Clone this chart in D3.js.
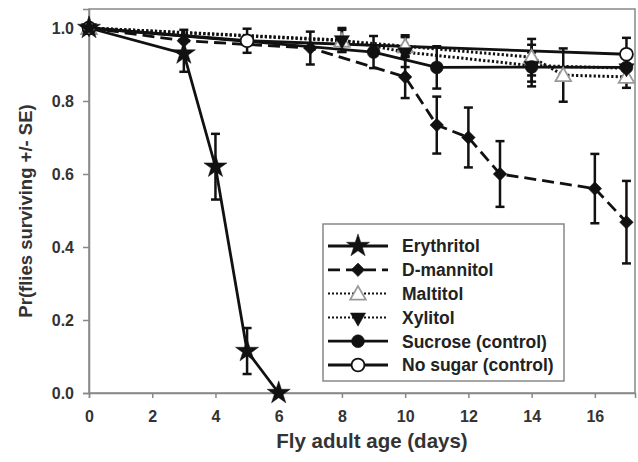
<!DOCTYPE html>
<html>
<head>
<meta charset="utf-8">
<script src="https://cdnjs.cloudflare.com/ajax/libs/d3/7.8.5/d3.min.js"></script>
<style>
  body { margin: 0; background: #fff; }
  text { font-family: "Liberation Sans", Arial, sans-serif; font-weight: bold; }
</style>
</head>
<body>
<div id="chart"></div>
<script>
var width = 638
var height = 462

// values: day, survival, standard error
const erythritolDays = [0, 3, 4, 5, 6];
const erythritolVals = [1.0, 0.93, 0.62, 0.115, 0.0];
const erythritolSE   = [0, 0.05, 0.09, 0.063, 0];

const mannitolDays = [0, 3, 7, 10, 11, 12, 13, 16, 17];
const mannitolVals = [1.0, 0.965, 0.945, 0.866, 0.734, 0.70, 0.60, 0.56, 0.468];
const mannitolSE   = [0, 0.03, 0.045, 0.058, 0.078, 0.082, 0.09, 0.095, 0.113];

const maltitolDays = [0, 8, 10, 14, 15, 17];
const maltitolVals = [1.0, 0.965, 0.95, 0.92, 0.871, 0.866];
const maltitolSE   = [0, 0.03, 0.03, 0.05, 0.073, 0.03];

const xylitolDays = [0, 8, 10, 14, 17];
const xylitolVals = [1.0, 0.967, 0.934, 0.897, 0.89];
const xylitolSE   = [0, 0.033, 0.041, 0.057, 0.03];

const sucroseDays = [0, 9, 11, 14, 17];
const sucroseVals = [1.0, 0.934, 0.892, 0.893, 0.892];
const sucroseSE   = [0, 0.044, 0.058, 0.04, 0.03];

const noSugarDays = [0, 5, 17];
const noSugarVals = [1.0, 0.965, 0.928];
const noSugarSE   = [0, 0.033, 0.045];

const xTicks = [0, 2, 4, 6, 8, 10, 12, 14, 16];
const yTicks = [0, 0.2, 0.4, 0.6, 0.8, 1.0];

const zip = (days, vals, se) => days.map((d, i) => ({day: d, val: vals[i], se: se[i]}));

const dots = "2.2,2.2";
const series = [
  {name: "Erythritol", data: zip(erythritolDays, erythritolVals, erythritolSE), dash: null, sym: d3.symbolStar, size: 165, fill: "#111", rot: 0},
  {name: "D-mannitol", data: zip(mannitolDays, mannitolVals, mannitolSE), dash: "12,6", sym: d3.symbolSquare, size: 92, fill: "#111", rot: 45},
  {name: "Maltitol", data: zip(maltitolDays, maltitolVals, maltitolSE), dash: dots, sym: d3.symbolTriangle, size: 105, fill: "#fff", stroke: "#999", rot: 0},
  {name: "Xylitol", data: zip(xylitolDays, xylitolVals, xylitolSE), dash: dots, sym: d3.symbolTriangle, size: 100, fill: "#111", rot: 180},
  {name: "Sucrose (control)", data: zip(sucroseDays, sucroseVals, sucroseSE), dash: null, sym: d3.symbolCircle, size: 130, fill: "#111", rot: 0},
  {name: "No sugar (control)", data: zip(noSugarDays, noSugarVals, noSugarSE), dash: null, sym: d3.symbolCircle, size: 130, fill: "#fff", stroke: "#111", rot: 0}
];

const margin = {top: 9, right: 3, bottom: 69, left: 89};
const innerWidth = width - margin.left - margin.right;
const innerHeight = height - margin.top - margin.bottom;

var svg = d3.select("#chart").append("svg")
  .attr("width", width)
  .attr("height", height)

const g = svg.append("g")
  .attr("transform", `translate(${margin.left}, ${margin.top})`)

const xScale = d3.scaleLinear().domain([0, 17.27]).range([0, innerWidth]);
const yScale = d3.scaleLinear().domain([0, 1.052]).range([innerHeight, 0]);

// frame
g.append("rect")
  .attr("width", innerWidth).attr("height", innerHeight)
  .attr("fill", "none").attr("stroke", "#888").attr("stroke-width", 1.5);

const xAxis = d3.axisBottom(xScale).tickValues(xTicks).tickFormat(d3.format("d")).tickSize(5).tickPadding(13);
const yAxis = d3.axisLeft(yScale).tickValues(yTicks).tickFormat(d3.format(".1f")).tickSize(6).tickPadding(9);

g.append("g").attr("transform", `translate(0, ${innerHeight})`).call(xAxis)
  .call(a => a.selectAll("line,path").attr("stroke", "#888").attr("stroke-width", 1.5))
  .call(a => a.selectAll("text").attr("font-size", 16).attr("fill", "#333"));
g.append("g").call(yAxis)
  .call(a => a.selectAll("line,path").attr("stroke", "#888").attr("stroke-width", 1.5))
  .call(a => a.selectAll("text").attr("font-size", 16).attr("fill", "#333"));

// lines
const line = d3.line().x(d => xScale(d.day)).y(d => yScale(d.val));
const drawOrder = [1, 2, 3, 4, 5, 0];

drawOrder.forEach(i => {
  const s = series[i];
  g.append("path").datum(s.data)
    .attr("d", line)
    .attr("fill", "none")
    .attr("stroke", "#111")
    .attr("stroke-width", s.dash === dots ? 3 : 2.8)
    .attr("stroke-dasharray", s.dash);
});

// error bars
drawOrder.forEach(i => {
  const s = series[i];
  const eb = g.append("g").selectAll("g").data(s.data.filter(d => d.se > 0)).enter().append("g");
  eb.append("line")
    .attr("x1", d => xScale(d.day)).attr("x2", d => xScale(d.day))
    .attr("y1", d => yScale(d.val + d.se)).attr("y2", d => yScale(d.val - d.se))
    .attr("stroke", "#111").attr("stroke-width", 2.5);
  [1, -1].forEach(sign => {
    eb.append("line")
      .attr("x1", d => xScale(d.day) - 4.5).attr("x2", d => xScale(d.day) + 4.5)
      .attr("y1", d => yScale(d.val + sign * d.se)).attr("y2", d => yScale(d.val + sign * d.se))
      .attr("stroke", "#111").attr("stroke-width", 2.5);
  });
});

// markers
const marker = s => d3.symbol().type(s.sym).size(s.size)();
const nudge = s => (s.sym === d3.symbolTriangle && !s.rot ? 1.5 : 0);
drawOrder.forEach(i => {
  const s = series[i];
  g.append("g").selectAll("path").data(s.data).enter().append("path")
    .attr("d", marker(s))
    .attr("transform", d => `translate(${xScale(d.day)}, ${yScale(d.val) + nudge(s)}) rotate(${s.rot})`)
    .attr("fill", s.fill)
    .attr("stroke", s.stroke || "#111")
    .attr("stroke-width", s.stroke ? 1.8 : 0.5);
});

// legend
const legend = svg.append("g").attr("transform", "translate(323, 224)");
legend.append("rect").attr("width", 241).attr("height", 157)
  .attr("fill", "#fff").attr("stroke", "#888").attr("stroke-width", 1.5);

series.forEach((s, i) => {
  const row = legend.append("g").attr("transform", `translate(0, ${22 + i * 23.8})`);
  row.append("line").attr("x1", 5).attr("x2", 65).attr("y1", 0).attr("y2", 0)
    .attr("stroke", "#111")
    .attr("stroke-width", s.dash === dots ? 2 : 2.8)
    .attr("stroke-dasharray", s.dash === dots ? "2,2" : s.dash);
  row.append("path").attr("d", marker(s))
    .attr("transform", `translate(35, ${nudge(s)}) rotate(${s.rot})`)
    .attr("fill", s.fill)
    .attr("stroke", s.stroke || "#111")
    .attr("stroke-width", s.stroke ? 1.8 : 0.5);
  row.append("text").attr("x", 79).attr("y", 0).attr("dy", "0.36em")
    .attr("font-size", 17.5).attr("fill", "#222").text(s.name);
});

// axis titles
svg.append("text")
  .attr("x", 372).attr("y", 448)
  .attr("text-anchor", "middle").attr("font-size", 20.5).attr("fill", "#333")
  .text("Fly adult age (days)");

svg.append("text")
  .attr("transform", "translate(32, 211) rotate(-90)")
  .attr("text-anchor", "middle").attr("font-size", 18.5).attr("fill", "#333")
  .text("Pr(flies surviving +/- SE)");
</script>
</body>
</html>
